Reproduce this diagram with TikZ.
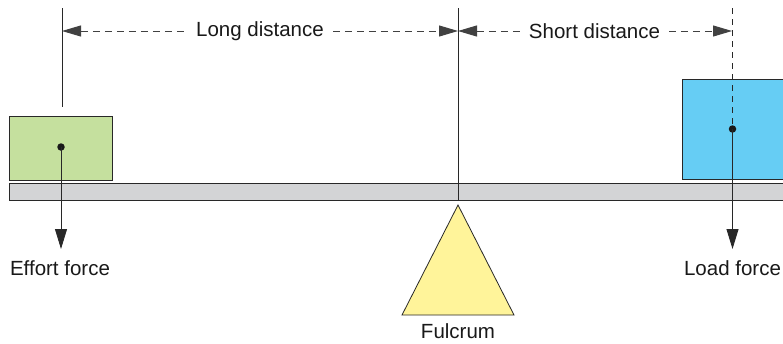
\documentclass[tikz,border=0pt]{standalone}
\usepackage{fontspec}
\setmainfont{Liberation Sans}
\usetikzlibrary{arrows.meta}
\definecolor{beamfill}{RGB}{211,212,214}
\definecolor{effortfill}{RGB}{197,224,158}
\definecolor{loadfill}{RGB}{102,205,244}
\definecolor{fulcfill}{RGB}{255,244,154}
\definecolor{edge}{RGB}{40,40,40}
\definecolor{dimgray}{RGB}{65,65,65}
\tikzset{
  solidbox/.style={draw=edge, line width=0.8pt},
  guideline/.style={draw=edge, line width=0.9pt},
  forcearrow/.style={draw=edge, line width=0.9pt, -{Triangle[length=20pt,width=12pt]}},
  dimarrow/.style={draw=dimgray, line width=1pt, dash pattern=on 7pt off 5pt,
    {Triangle[length=19pt,width=11pt]}-{Triangle[length=19pt,width=11pt]}},
  lbl/.style={font=\fontsize{20.5}{24}\selectfont, text=black!90, inner sep=0pt, anchor=base},
  dimlbl/.style={lbl, fill=white, inner xsep=9pt, inner ysep=3pt, anchor=center},
  dotmark/.style={circle, fill=black!90, inner sep=0pt, minimum size=7.5pt}
}
\begin{document}
\begin{tikzpicture}[x=1pt,y=-1pt]
\clip (0,0) rectangle (783,343);
\fill[white] (0,0) rectangle (783,343);
% beam
\draw[solidbox, fill=beamfill] (9,183) rectangle (800,200);
% boxes
\draw[solidbox, fill=effortfill] (9,116) rectangle (112,180);
\draw[solidbox, fill=loadfill] (682,79) rectangle (800,179);
% fulcrum
\coordinate (apex) at (458,205);
\coordinate (baseL) at (402,315);
\coordinate (baseR) at (514,315);
\draw[solidbox, fill=fulcfill, line join=miter] (apex) -- (baseL) -- (baseR) -- cycle;
% vertical guide lines
\coordinate (effTop) at (62,8);
\coordinate (effBot) at (62,107);
\coordinate (fulTop) at (458,8);
\coordinate (fulBot) at (458,200);
\coordinate (loadTop) at (732.5,8);
\draw[guideline] (effTop) -- (effBot);
\draw[guideline] (fulTop) -- (fulBot);
% dots
\node[dotmark] (effDot) at (61,147) {};
\node[dotmark] (loadDot) at (732.5,129) {};
\draw[guideline, dash pattern=on 6pt off 5pt, line width=0.8pt] (loadTop) -- (loadDot.center);
% force arrows
\coordinate (effEnd) at (61,249);
\coordinate (loadEnd) at (732.5,249);
\draw[forcearrow] (effDot.center) -- (effEnd);
\draw[forcearrow] (loadDot.center) -- (loadEnd);
% dimension arrows
\coordinate (dimL) at (62,31);
\coordinate (dimF) at (458,31);
\coordinate (dimR) at (732,31);
\draw[dimarrow] (dimL) -- (dimF);
\draw[dimarrow] (dimF) -- (dimR);
\node[dimlbl] (longlbl) at (260,31.5) {Long distance};
\node[dimlbl] (shortlbl) at (594.5,31.5) {Short distance};
% labels
\node[lbl] (efflbl) at (60,275) {Effort force};
\node[lbl] (loadlbl) at (732.5,275) {Load force};
\node[lbl] (fullbl) at (458,338) {Fulcrum};
\end{tikzpicture}
\end{document}
